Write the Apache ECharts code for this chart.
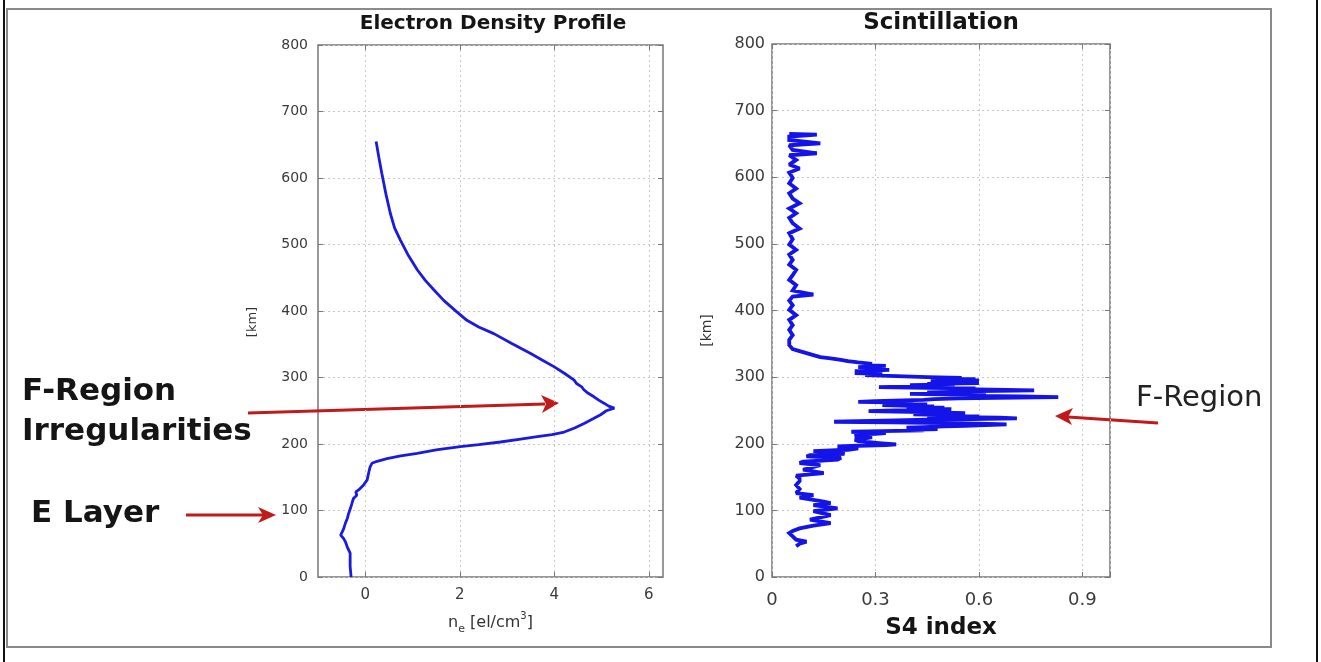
<!DOCTYPE html>
<html>
<head>
<meta charset="utf-8">
<script src="https://cdn.jsdelivr.net/npm/echarts@6/dist/echarts.min.js"></script>
<style>
html,body{margin:0;padding:0;background:#fff;}
#main{width:1321px;height:662px;}
</style>
</head>
<body>
<div id="main"></div>
<script>
// ---- Electron density profile (x 10^5 el/cm^3) vs altitude (km)
const densityAlt = [655,630,607,575,547,525,507,485,462,446,432,416,401,386,376,366,351,336,326,316,306,296,291,286,282,277,271,266,261,257,254,250,244,238,231,224,218,214,211,207,203,199,196,191,186,182,178,174,171,165,156,146,138,131,128,126,123,118,111,104,96,88,81,72,63,58,53,45,36,26,16,8,0];
const densityVal = [0.23,0.29,0.35,0.44,0.53,0.62,0.74,0.9,1.10,1.27,1.45,1.66,1.9,2.15,2.4,2.72,3.1,3.5,3.75,4.0,4.22,4.42,4.47,4.58,4.62,4.7,4.84,4.94,5.06,5.15,5.27,5.1,4.98,4.82,4.63,4.43,4.21,3.95,3.64,3.25,2.86,2.4,2.01,1.5,1.10,0.75,0.46,0.25,0.14,0.1,0.07,0.04,-0.04,-0.14,-0.2,-0.21,-0.18,-0.25,-0.28,-0.31,-0.35,-0.38,-0.42,-0.46,-0.52,-0.46,-0.42,-0.38,-0.32,-0.32,-0.32,-0.31,-0.30];

// ---- Scintillation S4 index vs altitude (km)
const s4Alt = [665,664,661,656,651,648,641,636,633,626,619,613,607,599,591,583,576,568,561,553,546,539,531,523,516,507,499,491,484,476,469,461,453,446,438,430,424,421,415,408,401,393,386,378,371,363,356,348,
  342,339,336,333,330,328,326,324,322,320,318,317,315,314,312,311,309,308,306,305,303,302,300,299,298,297,296,295,294,293,292,291,290,289,288,287,285,284,283,282,281,280,279,278,277,276,275,274,273,272,271,270,269,268,267,266,265,264,263,262,261,260,259,258,257,256,255,254,253,252,251,250,249,248,247,246,245,244,243,242,241,240,239,238,237,236,235,234,233,232,231,230,229,228,227,226,225,224,223,222,221,220,219,218,217,216,215,214,212,210,208,206,204,202,201,199,198,197,196,
  193,191,189,187,185,183,181,179,176,173,171,168,165,161,158,156,152,148,144,138,132,126,123,119,116,113,111,108,103,99,96,93,90,86,83,81,77,73,69,66,61,56,53,50,46];
const s4Val = [0.05,0.13,0.05,0.05,0.14,0.05,0.06,0.13,0.05,0.07,0.05,0.08,0.05,0.06,0.05,0.07,0.05,0.06,0.08,0.05,0.07,0.05,0.06,0.08,0.05,0.06,0.05,0.07,0.05,0.06,0.05,0.07,0.06,0.05,0.07,0.06,0.12,0.06,0.05,0.06,0.05,0.07,0.05,0.06,0.05,0.06,0.05,0.05,
  0.06,0.08,0.10,0.12,0.14,0.17,0.20,0.22,0.25,0.29,0.27,0.33,0.25,0.32,0.26,0.34,0.24,0.30,0.24,0.32,0.27,0.34,0.45,0.55,0.47,0.59,0.50,0.60,0.46,0.58,0.50,0.60,0.45,0.53,0.40,0.48,0.31,0.45,0.59,0.55,0.68,0.76,0.60,0.52,0.45,0.55,0.40,0.50,0.62,0.58,0.72,0.83,0.65,0.54,0.47,0.44,0.38,0.30,0.25,0.34,0.41,0.36,0.45,0.32,0.40,0.47,0.39,0.50,0.44,0.52,0.46,0.36,0.28,0.40,0.48,0.56,0.47,0.41,0.52,0.45,0.60,0.54,0.66,0.71,0.58,0.45,0.36,0.25,0.18,0.35,0.50,0.60,0.68,0.62,0.56,0.50,0.44,0.39,0.45,0.48,0.40,0.44,0.32,0.23,0.28,0.33,0.30,0.25,0.24,0.29,0.27,0.24,0.25,0.29,0.31,0.36,0.33,0.25,0.19,
  0.25,0.22,0.12,0.2,0.21,0.11,0.1,0.2,0.19,0.09,0.08,0.14,0.14,0.09,0.09,0.15,0.07,0.08,0.08,0.07,0.08,0.07,0.12,0.08,0.08,0.15,0.17,0.12,0.19,0.12,0.12,0.17,0.17,0.11,0.11,0.17,0.12,0.08,0.06,0.05,0.06,0.07,0.1,0.08,0.07];

// ---- tick labels
const kmTicks = [0,100,200,300,400,500,600,700,800];
const densityTicks = [0,2,4,6];
const s4Ticks = [0,0.3,0.6,0.9];

const FONT = 'DejaVu Sans';
const frameColor = '#777';
const gridLine = {show:true, lineStyle:{color:'#c8c8c8', type:[2,3], width:1}};

function pairs(xs, ys){ return xs.map((v,i)=>[v, ys[i]]); }

const chart = echarts.init(document.getElementById('main'), null, {renderer:'canvas'});

const leftGrid = {left:318, top:45, width:345, height:532, show:true, borderColor:frameColor, borderWidth:1.5};
const rightGrid = {left:772, top:44, width:338, height:533, show:true, borderColor:frameColor, borderWidth:1.5};

function tickStyle(){ return {show:true, inside:true, length:5, lineStyle:{color:frameColor}}; }
const noLine = {show:false, onZero:false};

const option = {
  animation:false,
  backgroundColor:'#fff',
  title:[
    {text:'Electron Density Profile', left:488, top:9, textAlign:'center',
     textStyle:{fontFamily:FONT, fontWeight:'bold', fontSize:20, color:'#151515'}},
    {text:'Scintillation', left:936, top:7, textAlign:'center',
     textStyle:{fontFamily:FONT, fontWeight:'bold', fontSize:23, color:'#151515'}}
  ],
  grid:[leftGrid, rightGrid],
  xAxis:[
    {gridIndex:0, type:'value', min:-1, max:6.3, position:'bottom',
     axisLine:noLine,
     axisTick:Object.assign(tickStyle(), {customValues:densityTicks}),
     axisLabel:{customValues:densityTicks, fontFamily:FONT, fontSize:15, color:'#3a3a3a', margin:11},
     splitLine:gridLine,
     name:'{a|n}{s|e}{a| [el/cm}{p|3}{a|]}', nameLocation:'middle', nameGap:34,
     nameTextStyle:{rich:{
       a:{fontFamily:FONT, fontSize:16, color:'#333', lineHeight:24, verticalAlign:'middle'},
       s:{fontFamily:FONT, fontSize:11, color:'#333', lineHeight:12, verticalAlign:'bottom'},
       p:{fontFamily:FONT, fontSize:10, color:'#333', lineHeight:12, verticalAlign:'top'}
     }}},
    {gridIndex:0, type:'value', min:-1, max:6.3, position:'top',
     axisLine:noLine, axisTick:Object.assign(tickStyle(), {customValues:densityTicks}),
     axisLabel:{show:false}, splitLine:{show:false}},
    {gridIndex:1, type:'value', min:0, max:0.98, interval:0.3, position:'bottom',
     axisLine:noLine, axisTick:tickStyle(),
     axisLabel:{fontFamily:FONT, fontSize:18, color:'#3a3a3a', margin:14,
       formatter:function(v){ return s4Ticks.indexOf(Math.round(v*10)/10)>=0 ? (v===0?'0':v.toFixed(1)) : ''; }},
     splitLine:gridLine,
     name:'S4 index', nameLocation:'middle', nameGap:40,
     nameTextStyle:{fontFamily:FONT, fontWeight:'bold', fontSize:23, color:'#151515'}},
    {gridIndex:1, type:'value', min:0, max:0.98, interval:0.3, position:'top',
     axisLine:noLine, axisTick:tickStyle(), axisLabel:{show:false}, splitLine:{show:false}}
  ],
  yAxis:[
    {gridIndex:0, type:'value', min:0, max:800, interval:100, position:'left',
     axisLine:noLine, axisTick:tickStyle(),
     axisLabel:{fontFamily:FONT, fontSize:14, color:'#3a3a3a', margin:10},
     splitLine:gridLine,
     name:'[km]', nameLocation:'middle', nameGap:59, nameRotate:90, nameMoveOverlap:false,
     nameTextStyle:{fontFamily:FONT, fontSize:13, color:'#333', padding:[0,22,0,0]}},
    {gridIndex:0, type:'value', min:0, max:800, interval:100, position:'right',
     axisLine:noLine, axisTick:tickStyle(), axisLabel:{show:false}, splitLine:{show:false}},
    {gridIndex:1, type:'value', min:0, max:800, interval:100, position:'left',
     axisLine:noLine, axisTick:tickStyle(),
     axisLabel:{fontFamily:FONT, fontSize:16, color:'#3a3a3a', margin:7},
     splitLine:gridLine,
     name:'[km]', nameLocation:'middle', nameGap:58, nameRotate:90, nameMoveOverlap:false,
     nameTextStyle:{fontFamily:FONT, fontSize:14, color:'#333', padding:[0,40,0,0]}},
    {gridIndex:1, type:'value', min:0, max:800, interval:100, position:'right',
     axisLine:noLine, axisTick:tickStyle(), axisLabel:{show:false}, splitLine:{show:false}}
  ],
  series:[
    {type:'line', name:'ne', xAxisIndex:0, yAxisIndex:0, data:pairs(densityVal, densityAlt),
     showSymbol:false, symbol:'none', lineStyle:{color:'#1a1ae0', width:2.8}, z:5},
    {type:'line', name:'S4', xAxisIndex:2, yAxisIndex:2, data:pairs(s4Val, s4Alt),
     showSymbol:false, symbol:'none', lineStyle:{color:'#1414e8', width:3.8, join:'miter', miterLimit:2}, z:5}
  ],
  graphic:[
    // page frame
    {type:'rect', shape:{x:7, y:9, width:1264, height:638}, style:{fill:null, stroke:'#8a8a8a', lineWidth:2}, silent:true},
    {type:'line', shape:{x1:4, y1:0, x2:4, y2:662}, style:{stroke:'#111', lineWidth:2}, silent:true},
    {type:'line', shape:{x1:1317, y1:0, x2:1317, y2:662}, style:{stroke:'#111', lineWidth:2}, silent:true},
    // annotations
    {type:'text', left:22, top:376, style:{text:'F-Region', font:'bold 31px "DejaVu Sans"', fill:'#151515'}},
    {type:'text', left:22, top:416, style:{text:'Irregularities', font:'bold 31px "DejaVu Sans"', fill:'#151515'}},
    {type:'text', left:31, top:498, style:{text:'E Layer', font:'bold 31px "DejaVu Sans"', fill:'#151515'}},
    {type:'text', left:1136, top:384, style:{text:'F-Region', font:'29px "DejaVu Sans"', fill:'#222'}},
    {type:'line', shape:{x1:248, y1:413, x2:545, y2:404}, style:{stroke:'#c01a1a', lineWidth:3.2}},
    {type:'polygon', shape:{points:[[559,403],[541,395],[546,404],[542,413]]}, style:{fill:'#c01a1a'}},
    {type:'line', shape:{x1:186, y1:515, x2:263, y2:515}, style:{stroke:'#c01a1a', lineWidth:3}},
    {type:'polygon', shape:{points:[[276,515],[258,507],[263,515],[258,523]]}, style:{fill:'#c01a1a'}},
    {type:'line', shape:{x1:1158, y1:423, x2:1068, y2:417}, style:{stroke:'#c01a1a', lineWidth:3}},
    {type:'polygon', shape:{points:[[1055,416],[1073,408],[1068,417],[1072,425]]}, style:{fill:'#c01a1a'}}
  ]
};
chart.setOption(option);
</script>
</body>
</html>
